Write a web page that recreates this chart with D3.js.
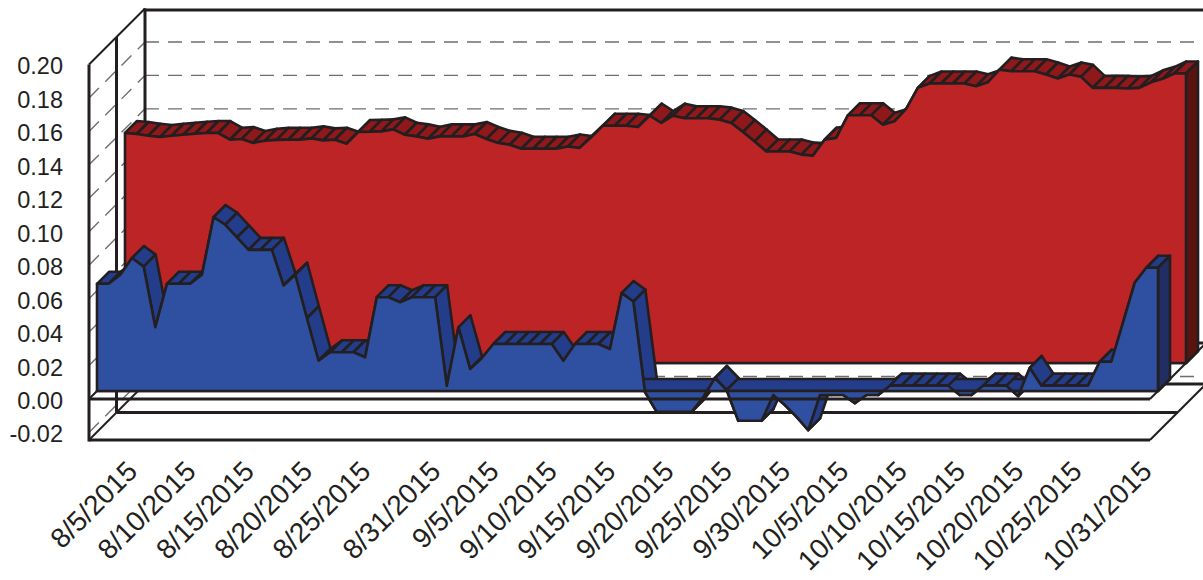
<!DOCTYPE html>
<html>
<head>
<meta charset="utf-8">
<script src="https://cdn.jsdelivr.net/npm/d3@7/dist/d3.min.js"></script>
<style>
  html, body { margin: 0; background: #fff; overflow: hidden; }
  text { font-family: "Liberation Sans", Arial, sans-serif; fill: #231f20; }
</style>
</head>
<body>
<svg id="chart"></svg>
<script>
const redValues = [
  .1375, .1369, .1359, .1351, .1359, .1365, .1371, .1375, .1375, .1335,
  .1339, .1316, .1329, .1334, .1335, .1335, .1343, .1331, .1335, .1311,
  .1381, .1383, .1385, .1397, .1365, .1355, .1341, .1355, .1355, .1355,
  .1369, .1339, .1316, .1305, .1281, .1281, .1281, .1281, .1295, .1286,
  .1351, .1419, .1419, .1419, .1411, .1479, .1435, .1479, .1463, .1463,
  .1463, .1455, .1435, .1381, .1325, .1265, .1265, .1265, .1246, .1240,
  .1335, .1346, .1481, .1481, .1481, .1425, .1445, .1519, .1645, .1671,
  .1671, .1671, .1671, .1655, .1678, .1754, .1744, .1744, .1744, .1725,
  .1701, .1725, .1711, .1645, .1645, .1645, .1641, .1645, .1678, .1699,
  .1731, .1731
]
const blueValues = [
  .0641, .0641, .0695, .0795, .0744, .0381, .0641, .0641, .0641, .0695,
  .1040, .0994, .0918, .0844, .0844, .0844, .0631, .0695, .0435, .0181,
  .0232, .0232, .0232, .0202, .0561, .0561, .0531, .0561, .0561, .0561,
  .0030, .0381, .0132, .0196, .0281, .0281, .0281, .0281, .0281, .0281,
  .0181, .0281, .0281, .0281, .0251, .0585, .0535, -.0006, -.0124, -.0124,
  -.0124, -.0124, -.0036, .0078, .0006, -.0178, -.0178, -.0178, -.0024, -.0084,
  -.0154, -.0234, -.0024, -.0024, -.0024, -.0072, -.0024, -.0024, .0032, .0032,
  .0032, .0032, .0032, .0032, -.0024, -.0024, .0032, .0032, .0032, -.0030,
  .0138, .0032, .0032, .0032, .0032, .0032, .0175, .0175, .0409, .0647,
  .0737, .0737
]
const dayLabels = [
  '8/5/2015', '8/10/2015', '8/15/2015', '8/20/2015', '8/25/2015', '8/31/2015',
  '9/5/2015', '9/10/2015', '9/15/2015', '9/20/2015', '9/25/2015', '9/30/2015',
  '10/5/2015', '10/10/2015', '10/15/2015', '10/20/2015', '10/25/2015', '10/31/2015'
]
const yTicks = [-0.02, 0, 0.02, 0.04, 0.06, 0.08, 0.1, 0.12, 0.14, 0.16, 0.18, 0.2]
const yMin = -0.0245

const width = 1203
const height = 580
const ink = '#231f20'
const wallDepth = 56 // back wall sits this far up and right of the front
const midDepth = 27.5
const ridge = 12 // thickness of each area in 3d

const parseDay = d3.utcParse('%m/%d/%Y')
const firstDay = parseDay('8/1/2015')
const days = d3.utcDay.range(firstDay, d3.utcDay.offset(parseDay('10/31/2015'), 1))
const tickDays = dayLabels.map(parseDay)

const x = d3.scaleUtc().domain([firstDay, days[days.length - 1]]).range([89, 1150])
const y = d3.scaleLinear().domain([yMin, 0.2]).range([440, 64.5])

const svg = d3.select('#chart').attr('width', width).attr('height', height)
svg.style('display', 'block')

const line = (g, x1, y1, x2, y2, w = 3) =>
  g.append('line')
    .attr('x1', x1).attr('y1', y1).attr('x2', x2).attr('y2', y2)
    .attr('stroke', ink).attr('stroke-width', w)

const xL = x.range()[0]
const xR = x.range()[1]

// Walls and gridlines
const walls = svg.append('g')
const grid = yTicks.filter(t => t < 0.2)
grid.forEach(t => {
  walls.append('line')
    .attr('x1', xL + wallDepth).attr('y1', y(t) - wallDepth)
    .attr('x2', width).attr('y2', y(t) - wallDepth)
    .attr('stroke', '#6d6e71').attr('stroke-width', 1.4)
    .attr('stroke-dasharray', '14,9')
  walls.append('line')
    .attr('x1', xL).attr('y1', y(t))
    .attr('x2', xL + wallDepth).attr('y2', y(t) - wallDepth)
    .attr('stroke', '#6d6e71').attr('stroke-width', 1.4)
    .attr('stroke-dasharray', '14,9')
})
line(walls, xL + wallDepth, y(0.2) - wallDepth, xL + wallDepth, y(yMin) - wallDepth)
line(walls, xL + wallDepth - 1.5, y(0.2) - wallDepth + 1.5, width, y(0.2) - wallDepth + 1.5)
line(walls, xL, y(0.2), xL + wallDepth, y(0.2) - wallDepth, 2)
line(walls, xL + midDepth, y(0.2) - midDepth, xL + midDepth, y(yMin) - midDepth)
line(walls, xL + wallDepth, y(0) - wallDepth, width, y(0) - wallDepth)
line(walls, xL + wallDepth, y(yMin) - wallDepth, width, y(yMin) - wallDepth)
line(walls, xL, y(0), xL + wallDepth, y(0) - wallDepth, 2)
line(walls, xL, y(yMin), xL + wallDepth, y(yMin) - wallDepth, 2)
line(walls, xL + midDepth, y(yMin) - midDepth, xR + midDepth, y(yMin) - midDepth)

// One 3d area: ridge bands below zero, floor, ridge bands above zero, end cap, front face
const drawSeries = (values, depth, colors) => {
  const g = svg.append('g')
    .attr('stroke', ink).attr('stroke-width', 2.6).attr('stroke-linejoin', 'round')
  const px = i => x(days[i]) + depth
  const py = i => y(values[i]) - depth
  const base = y(0) - depth
  const last = values.length - 1
  const segments = d3.range(last)
  const above = i => values[i] > 0 && values[i + 1] > 0

  const ridges = (data, cls) => g.selectAll('polygon.' + cls)
    .data(data)
    .enter()
    .append('polygon')
    .attr('class', cls)
    .attr('points', i => [
      [px(i), py(i)], [px(i + 1), py(i + 1)],
      [px(i + 1) + ridge, py(i + 1) - ridge], [px(i) + ridge, py(i) - ridge]
    ].join(' '))
    .attr('fill', colors.ridge)

  ridges(segments.filter(i => !above(i)), 'under')

  g.append('polygon')
    .attr('points', [[px(0), base], [px(last), base], [px(last) + ridge, base - ridge], [px(0) + ridge, base - ridge]].join(' '))
    .attr('fill', colors.ridge)

  ridges(segments.filter(above), 'over')

  g.append('polygon')
    .attr('points', [[px(last), py(last)], [px(last) + ridge, py(last) - ridge], [px(last) + ridge, base - ridge], [px(last), base]].join(' '))
    .attr('fill', colors.cap)

  const area = d3.area()
    .x((d, i) => px(i))
    .y0(base)
    .y1((d, i) => py(i))
  g.append('path').datum(values).attr('d', area).attr('fill', colors.front)
}

drawSeries(redValues, 36, { front: '#bc2426', ridge: '#8f181b', cap: '#5a1410' })
drawSeries(blueValues, 8, { front: '#2f50a0', ridge: '#243d8b', cap: '#202e63' })

// Front edges sit over the blue series
const front = svg.append('g')
line(front, xL, y(0.2), xL, y(yMin) + 1.5)
line(front, xL, y(0), xR, y(0))
line(front, xL, y(yMin), xR, y(yMin))
line(front, xR, y(0), xR + wallDepth, y(0) - wallDepth, 2)
line(front, xR, y(yMin), xR + wallDepth, y(yMin) - wallDepth, 2)

// Axis labels
const yAxis = d3.axisLeft(y).tickValues(yTicks).tickSize(0).tickPadding(0).tickFormat(d => d.toFixed(2))
svg.append('g')
  .attr('transform', 'translate(63,1)')
  .call(yAxis)
  .call(g => g.select('.domain').remove())
  .selectAll('text')
  .attr('dy', '0.36em')
  .style('font-family', '"Liberation Sans", Arial, sans-serif')
  .style('font-size', '23.5px')
  .style('fill', ink)

const xAxis = d3.axisBottom(x).tickValues(tickDays).tickSize(0).tickFormat(d3.utcFormat('%-m/%-d/%Y'))
svg.append('g')
  .attr('transform', 'translate(3,473)')
  .call(xAxis)
  .call(g => g.select('.domain').remove())
  .selectAll('text')
  .attr('y', 0)
  .attr('dy', 0)
  .attr('text-anchor', 'end')
  .attr('transform', 'rotate(-45)')
  .style('font-family', '"Liberation Sans", Arial, sans-serif')
  .style('font-size', '28px')
  .style('fill', ink)
</script>
</body>
</html>
